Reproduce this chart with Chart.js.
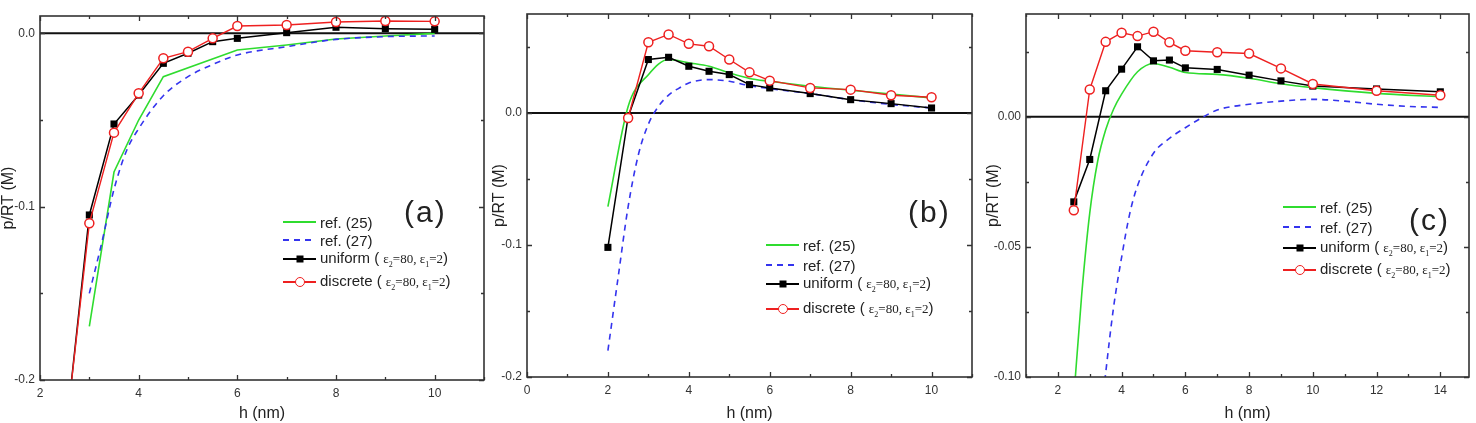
<!DOCTYPE html>
<html>
<head>
<meta charset="utf-8">
<script src="https://cdn.jsdelivr.net/npm/chart.js@4.4.0/dist/chart.umd.min.js"></script>
<style>
  body { margin: 0; background: #fff; width: 1476px; height: 423px; overflow: hidden; position: relative;
         font-family: "Liberation Sans", Arial, sans-serif; color: #222; }
  canvas { position: absolute; top: 0; }
  .row { position: absolute; height: 18px; display: flex; align-items: center; white-space: nowrap; font-size: 15px; }
  .sw { width: 33px; height: 18px; position: relative; margin-right: 4px; flex: none; }
  .ln { position: absolute; left: 0; right: 0; top: 8px; height: 2px; }
  .mk { position: absolute; left: 50%; top: 50%; transform: translate(-50%, -50%); box-sizing: border-box; }
  .eps { font-family: "Liberation Serif", "Times New Roman", serif; font-size: 13px; }
  .eps sub { font-size: 8px; }
  .tag { position: absolute; font-size: 30px; letter-spacing: 2px; line-height: 30px; color: #222; }
</style>
</head>
<body>
<canvas id="chartA" width="490" height="423" style="left:0px"></canvas>
<canvas id="chartB" width="490" height="423" style="left:490px"></canvas>
<canvas id="chartC" width="496" height="423" style="left:980px"></canvas>

<script>
// ---------- panel (a) ----------
const aX        = [2.5, 3, 3.5, 4, 4.5, 5, 5.5, 6, 7, 8, 9, 10];
const aUniform  = [-0.237, -0.1048, -0.0523, -0.0356, -0.0173, -0.0115, -0.0048, -0.0029, 0.0004, 0.0035, 0.0027, 0.0023];
const aDiscrete = [-0.236, -0.1096, -0.0573, -0.0346, -0.0144, -0.0106, -0.0029, 0.0042, 0.0048, 0.0065, 0.0071, 0.0069];
const aRef25X   = [3, 3.5, 4, 4.5, 6, 7, 8, 9, 10];
const aRef25    = [-0.169, -0.080, -0.050, -0.025, -0.0096, -0.0067, -0.0033, -0.0015, 0];
const aRef27X   = [3, 3.25, 3.5, 3.75, 4, 4.5, 5, 5.5, 6, 7, 8, 9, 10];
const aRef27    = [-0.150, -0.121, -0.090, -0.068, -0.055, -0.036, -0.025, -0.018, -0.0125, -0.0077, -0.0035, -0.0019, -0.0015];
const aXTicks   = [2, 4, 6, 8, 10];
const aYTicks   = [-0.2, -0.1, 0.0];

// ---------- panel (b) ----------
const bX         = [2, 2.5, 3, 3.5, 4, 4.5, 5, 5.5, 6, 7, 8, 9, 10];
const bUniform   = [-0.1018, -0.003, 0.0405, 0.0422, 0.0354, 0.0316, 0.0291, 0.0215, 0.019, 0.0147, 0.0101, 0.0071, 0.0038];
const bDiscreteX = [2.5, 3, 3.5, 4, 4.5, 5, 5.5, 6, 7, 8, 9, 10];
const bDiscrete  = [-0.0038, 0.0536, 0.0595, 0.0524, 0.0506, 0.0405, 0.0308, 0.0245, 0.019, 0.0177, 0.0134, 0.0119];
const bRef25     = [-0.0709, 0.005, 0.029, 0.0405, 0.038, 0.0354, 0.0304, 0.0262, 0.024, 0.0203, 0.0172, 0.0144, 0.0114];
const bRef27X    = [2, 2.25, 2.5, 2.75, 3, 3.25, 3.5, 3.75, 4, 4.5, 5, 5.5, 6, 7, 8, 9, 10];
const bRef27     = [-0.18, -0.125, -0.071, -0.032, -0.0085, 0.005, 0.0136, 0.0187, 0.0227, 0.0253, 0.024, 0.0207, 0.0185, 0.0147, 0.0101, 0.0065, 0.0038];
const bXTicks    = [0, 2, 4, 6, 8, 10];
const bYTicks    = [-0.2, -0.1, 0.0];

// ---------- panel (c) ----------
const cX        = [2.5, 3, 3.5, 4, 4.5, 5, 5.5, 6, 7, 8, 9, 10, 12, 14];
const cUniform  = [-0.0327, -0.0164, 0.0100, 0.0183, 0.0269, 0.0215, 0.0218, 0.0188, 0.0182, 0.016, 0.0138, 0.0118, 0.0107, 0.0096];
const cDiscrete = [-0.0359, 0.0105, 0.0288, 0.0323, 0.031, 0.0327, 0.0286, 0.0254, 0.0248, 0.0243, 0.0186, 0.0126, 0.01, 0.0083];
const cRef25X   = [2.5, 2.75, 3, 3.25, 3.5, 3.75, 4, 4.5, 5, 5.5, 6, 7, 8, 9, 10, 12, 14];
const cRef25    = [-0.108, -0.068, -0.037, -0.017, -0.005, 0.003, 0.0087, 0.0173, 0.0205, 0.019, 0.017, 0.0163, 0.0148, 0.0127, 0.0112, 0.009, 0.0077];
const cRef27X   = [3.4, 3.5, 3.75, 4, 4.25, 4.5, 5, 5.5, 6, 6.5, 7, 8, 9, 10, 11, 12, 13, 14];
const cRef27    = [-0.11, -0.0985, -0.073, -0.054, -0.0375, -0.0265, -0.014, -0.0083, -0.0042, -0.0005, 0.0026, 0.0048, 0.006, 0.0067, 0.006, 0.0048, 0.004, 0.0036];
const cXTicks   = [2, 4, 6, 8, 10, 12, 14];
const cYTicks   = [-0.10, -0.05, 0.00];

const seriesNames = ["ref. (25)", "ref. (27)", "uniform", "discrete"];
const GREEN = "#2fdc2f", BLUE = "#3434ee", RED = "#ee2020";

function pts(xs, ys) { return xs.map((x, i) => ({ x: x, y: ys[i] })); }

// frame with inward ticks on all four sides + zero line
const frameTicks = {
  id: "frameTicks",
  beforeDatasetsDraw(chart) {
    const { ctx, chartArea: a, scales: { y } } = chart;
    const y0 = y.getPixelForValue(0);
    ctx.save();
    ctx.strokeStyle = "#111";
    ctx.lineWidth = 2;
    ctx.beginPath(); ctx.moveTo(a.left, y0); ctx.lineTo(a.right, y0); ctx.stroke();
    ctx.restore();
  },
  afterDatasetsDraw(chart, args, opts) {
    const { ctx, chartArea: a, scales: { x, y } } = chart;
    ctx.save();
    ctx.strokeStyle = "#333";
    ctx.lineWidth = 1.3;
    const xs = opts.xStep / 2, ys = opts.yStep / 2;
    ctx.beginPath();
    for (let k = Math.ceil(x.min / xs - 1e-9); k * xs <= x.max + 1e-9; k++) {
      const px = Math.round(x.getPixelForValue(k * xs)) + 0.5;
      const len = (k % 2 === 0) ? 5 : 3;
      ctx.moveTo(px, a.bottom); ctx.lineTo(px, a.bottom - len);
      ctx.moveTo(px, a.top); ctx.lineTo(px, a.top + len);
    }
    for (let k = Math.ceil(y.min / ys - 1e-9); k * ys <= y.max + 1e-9; k++) {
      const py = Math.round(y.getPixelForValue(k * ys)) + 0.5;
      const len = (k % 2 === 0) ? 5 : 3;
      ctx.moveTo(a.left, py); ctx.lineTo(a.left + len, py);
      ctx.moveTo(a.right, py); ctx.lineTo(a.right - len, py);
    }
    ctx.stroke();
    ctx.lineWidth = 1.6;
    ctx.strokeRect(a.left, a.top, a.right - a.left, a.bottom - a.top);
    ctx.restore();
  }
};

function makeChart(id, p) {
  return new Chart(document.getElementById(id), {
    type: "line",
    data: {
      datasets: [
        { label: seriesNames[3], data: pts(p.discX, p.disc), borderColor: RED, borderWidth: 1.4,
          pointStyle: "circle", pointRadius: 4.5, pointBackgroundColor: "#fff", pointBorderColor: RED, pointBorderWidth: 1.5 },
        { label: seriesNames[2], data: pts(p.uniX, p.uni), borderColor: "#000", borderWidth: 1.5,
          pointStyle: "rect", pointRadius: 5, pointBackgroundColor: "#000", pointBorderColor: "#000", pointBorderWidth: 0 },
        { label: seriesNames[1], data: pts(p.r27X, p.r27), borderColor: BLUE, borderWidth: 1.6, borderDash: [6, 5],
          pointRadius: 0, cubicInterpolationMode: "monotone" },
        { label: seriesNames[0], data: pts(p.r25X, p.r25), borderColor: GREEN, borderWidth: 1.6,
          pointRadius: 0, cubicInterpolationMode: p.greenSmooth ? "monotone" : "default" }
      ]
    },
    options: {
      responsive: false,
      animation: false,
      devicePixelRatio: 1,
      layout: { padding: { top: p.top, right: p.right, left: 0, bottom: 0 } },
      plugins: { legend: { display: false }, tooltip: { enabled: false },
                 frameTicks: { xStep: p.xStep, yStep: p.yStep } },
      scales: {
        x: {
          type: "linear", min: p.xMin, max: p.xMax,
          grid: { display: false, drawTicks: false }, border: { display: false },
          ticks: { autoSkip: false, maxRotation: 0, padding: 6, color: "#333",
                   font: { family: "Liberation Sans", size: 12 } },
          afterBuildTicks: s => { s.ticks = p.xTicks.map(v => ({ value: v })); },
          afterFit: s => { s.height = p.xH; },
          title: { display: true, text: "h (nm)", color: "#222", padding: { top: p.xTitlePad, bottom: 0 },
                   font: { family: "Liberation Sans", size: 16 } }
        },
        y: {
          type: "linear", min: p.yMin, max: p.yMax,
          grid: { display: false, drawTicks: false }, border: { display: false },
          ticks: { autoSkip: false, padding: 5, color: "#333",
                   font: { family: "Liberation Sans", size: 12 },
                   callback: v => Number(v).toFixed(p.digits) },
          afterBuildTicks: s => { s.ticks = p.yTicks.map(v => ({ value: v })); },
          afterFit: s => { s.width = p.yW; },
          title: { display: true, text: "p/RT (M)", color: "#222", padding: { top: p.yTitlePad, bottom: 0 },
                   font: { family: "Liberation Sans", size: 16 } }
        }
      }
    },
    plugins: [frameTicks]
  });
}

makeChart("chartA", {
  uniX: aX, uni: aUniform, discX: aX, disc: aDiscrete, r25X: aRef25X, r25: aRef25, r27X: aRef27X, r27: aRef27,
  xMin: 2, xMax: 11, yMin: -0.2, yMax: 0.01, xTicks: aXTicks, yTicks: aYTicks, digits: 1, xStep: 2, yStep: 0.1,
  top: 16, right: 4, xH: 43, yW: 40, xTitlePad: -1.5, yTitlePad: -0.6, greenSmooth: false
});
makeChart("chartB", {
  uniX: bX, uni: bUniform, discX: bDiscreteX, disc: bDiscrete, r25X: bX, r25: bRef25, r27X: bRef27X, r27: bRef27,
  xMin: 0, xMax: 11, yMin: -0.2, yMax: 0.075, xTicks: bXTicks, yTicks: bYTicks, digits: 1, xStep: 2, yStep: 0.1,
  top: 14, right: 8, xH: 46, yW: 37, xTitlePad: 8.4, yTitlePad: 0.4, greenSmooth: true
});
makeChart("chartC", {
  uniX: cX, uni: cUniform, discX: cX, disc: cDiscrete, r25X: cRef25X, r25: cRef25, r27X: cRef27X, r27: cRef27,
  xMin: 1, xMax: 14.9, yMin: -0.10, yMax: 0.0395, xTicks: cXTicks, yTicks: cYTicks, digits: 2, xStep: 2, yStep: 0.05,
  top: 14, right: 7, xH: 46, yW: 46, xTitlePad: 10.4, yTitlePad: 4.4, greenSmooth: true
});

// ---------- legends and panel tags (HTML text) ----------
const legendLeft = [283, 766, 1283];
const legendRowY = [[222, 240, 259, 282], [245, 265, 284, 309], [207, 227, 248, 270]];
const tagText = ["(a)", "(b)", "(c)"];
const tagPos = [[404, 212], [908, 212], [1409, 220]];

const epsHtml = ' ( <span class="eps">&epsilon;<sub>2</sub>=80, &epsilon;<sub>1</sub>=2</span>)';
const swatches = [
  '<div class="ln" style="background:' + GREEN + '"></div>',
  '<div class="ln" style="background:repeating-linear-gradient(90deg,' + BLUE + ' 0 6px,transparent 6px 11px)"></div>',
  '<div class="ln" style="background:#000;height:1.5px"></div><div class="mk" style="width:7px;height:7px;background:#000"></div>',
  '<div class="ln" style="background:' + RED + ';height:1.5px"></div><div class="mk" style="width:10px;height:10px;border:1.5px solid ' + RED + ';border-radius:50%;background:#fff"></div>'
];

for (let p = 0; p < 3; p++) {
  for (let r = 0; r < 4; r++) {
    const row = document.createElement("div");
    row.className = "row";
    row.style.left = legendLeft[p] + "px";
    row.style.top = (legendRowY[p][r] - 9) + "px";
    row.innerHTML = '<div class="sw">' + swatches[r] + '</div><span>' + seriesNames[r] + (r >= 2 ? epsHtml : "") + '</span>';
    document.body.appendChild(row);
  }
  const tag = document.createElement("div");
  tag.className = "tag";
  tag.textContent = tagText[p];
  tag.style.left = tagPos[p][0] + "px";
  tag.style.top = (tagPos[p][1] - 15) + "px";
  document.body.appendChild(tag);
}
</script>
</body>
</html>
